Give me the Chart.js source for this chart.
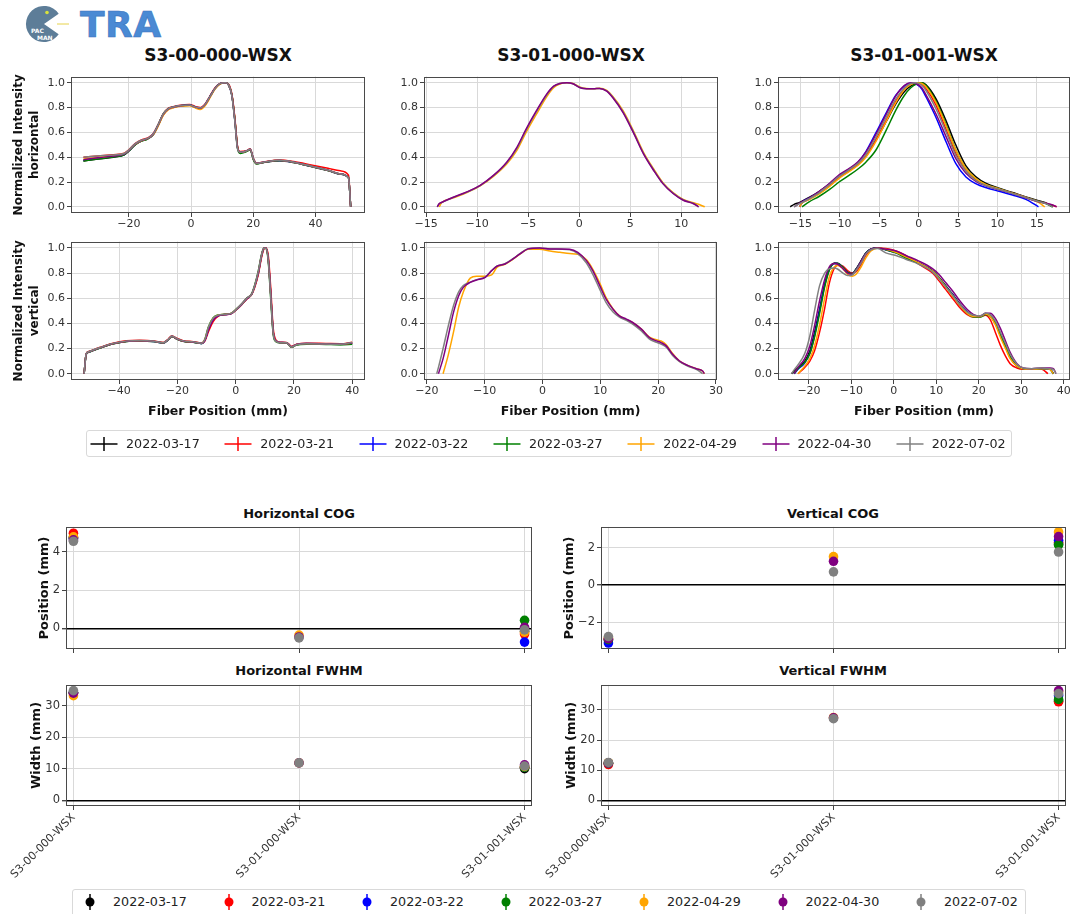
<!DOCTYPE html>
<html>
<head>
<meta charset="utf-8">
<title>TRA fiber profiles</title>
<script src="https://cdn.jsdelivr.net/npm/chart.js@4.4.1/dist/chart.umd.min.js"></script>
<style>
  html, body { margin: 0; padding: 0; }
  body { width: 1072px; height: 914px; position: relative; overflow: hidden; background: #fff;
         font-family: 'DejaVu Sans', sans-serif; color: #111; }
  canvas { position: absolute; }
  .txt { position: absolute; white-space: nowrap; line-height: 1; transform: translate(-50%, -50%); }
  .legend { position: absolute; border: 1px solid #d9d9d9; border-radius: 3px; background: #fff; box-sizing: border-box; }
  .lgtxt { position: absolute; white-space: nowrap; line-height: 1; transform: translateY(-50%); font-size: 12.7px; color: #222; }
  .brand { position: absolute; left: 80px; top: 7px; font-size: 36px; font-weight: bold; line-height: 36px;
           color: #4a8ad4; -webkit-text-stroke: 0.6px #3b74bd; letter-spacing: 0.5px; }
</style>
</head>
<body>
<svg style="position:absolute;left:24px;top:3px" width="46" height="42" viewBox="0 0 46 42">
  <path d="M20,21 L34.7,10.7 A18,18 0 1,0 34.7,31.3 Z" fill="#5d7d98"/>
  <circle cx="23" cy="9.5" r="1.8" fill="#d9e23c"/>
  <line x1="33" y1="21" x2="45" y2="21" stroke="#e6d24a" stroke-width="1"/>
  <text x="7" y="30" font-family="DejaVu Sans" font-size="6" font-weight="bold" fill="#fff">PAC</text>
  <text x="13" y="37" font-family="DejaVu Sans" font-size="6" font-weight="bold" fill="#fff">MAN</text>
</svg>
<div class="brand">TRA</div>

<script>
// ---------------------------------------------------------------------------
// Series and categories
// ---------------------------------------------------------------------------
const dates  = ['2022-03-17', '2022-03-21', '2022-03-22', '2022-03-27', '2022-04-29', '2022-04-30', '2022-07-02'];
const fibers = ['S3-00-000-WSX', 'S3-01-000-WSX', 'S3-01-001-WSX'];
const seriesColors = ['#000000', '#ff0000', '#0000ff', '#008000', '#ffa500', '#800080', '#808080'];

// Tick labels
const intensityTicks = [0, 0.2, 0.4, 0.6, 0.8, 1.0];
const h000_xticks = [-20, 0, 20, 40];
const v000_xticks = [-40, -20, 0, 20, 40];
const h010_xticks = [-15, -10, -5, 0, 5, 10];
const v010_xticks = [-20, -10, 0, 10, 20, 30];
const h011_xticks = [-15, -10, -5, 0, 5, 10, 15];
const v011_xticks = [-20, -10, 0, 10, 20, 30, 40];
const cogH_ticks  = [0, 2, 4];
const cogV_ticks  = [-2, 0, 2];
const fwhm_ticks  = [0, 10, 20, 30];

// ---------------------------------------------------------------------------
// S3-00-000-WSX, horizontal profile (fiber position in mm, normalized intensity)
// ---------------------------------------------------------------------------
const h000_x = [-34.6, -30, -25, -21.5, -20, -18, -16, -14, -12.2, -10.5, -9, -7.3, -5.5, -3.5, -0.5, 1.3, 2.9, 4.5, 6.1, 7.7, 9.3, 11, 12, 13.1, 14.1, 14.9, 15.8, 17.8, 19, 20, 21, 23.3, 28.5, 33, 39, 44, 48, 50.6, 51.3];
const h000_0317 = [0.37, 0.385, 0.4, 0.42, 0.45, 0.5, 0.53, 0.548, 0.58, 0.66, 0.74, 0.788, 0.803, 0.812, 0.818, 0.802, 0.792, 0.822, 0.888, 0.953, 0.992, 1.0, 0.985, 0.905, 0.7, 0.49, 0.44, 0.448, 0.462, 0.385, 0.348, 0.358, 0.372, 0.357, 0.322, 0.292, 0.262, 0.232, 0.0];
const h000_0321 = [0.4, 0.41, 0.42, 0.432, 0.46, 0.51, 0.54, 0.555, 0.59, 0.668, 0.748, 0.795, 0.81, 0.82, 0.825, 0.81, 0.8, 0.83, 0.895, 0.96, 0.995, 1.0, 0.99, 0.91, 0.71, 0.49, 0.445, 0.452, 0.468, 0.392, 0.352, 0.362, 0.378, 0.365, 0.335, 0.31, 0.29, 0.255, 0.0];
const h000_0322 = [0.375, 0.39, 0.405, 0.422, 0.452, 0.502, 0.532, 0.55, 0.583, 0.662, 0.742, 0.79, 0.806, 0.815, 0.82, 0.805, 0.795, 0.824, 0.89, 0.955, 0.993, 1.0, 0.986, 0.9, 0.69, 0.48, 0.44, 0.45, 0.465, 0.388, 0.35, 0.36, 0.374, 0.36, 0.324, 0.294, 0.263, 0.233, 0.0];
const h000_0327 = [0.37, 0.386, 0.402, 0.42, 0.45, 0.5, 0.53, 0.547, 0.582, 0.665, 0.748, 0.792, 0.806, 0.815, 0.82, 0.804, 0.793, 0.823, 0.89, 0.955, 0.993, 1.0, 0.985, 0.9, 0.69, 0.475, 0.43, 0.445, 0.46, 0.38, 0.345, 0.358, 0.373, 0.358, 0.323, 0.293, 0.263, 0.233, 0.0];
const h000_0429 = [0.385, 0.398, 0.412, 0.428, 0.455, 0.503, 0.533, 0.55, 0.58, 0.655, 0.735, 0.783, 0.8, 0.81, 0.815, 0.798, 0.785, 0.815, 0.88, 0.95, 0.99, 1.0, 0.985, 0.905, 0.7, 0.485, 0.44, 0.45, 0.465, 0.39, 0.35, 0.36, 0.375, 0.36, 0.325, 0.295, 0.265, 0.235, 0.0];
const h000_0430 = [0.38, 0.395, 0.41, 0.425, 0.455, 0.505, 0.535, 0.55, 0.585, 0.665, 0.745, 0.79, 0.805, 0.815, 0.82, 0.805, 0.795, 0.825, 0.89, 0.955, 0.993, 1.0, 0.985, 0.9, 0.69, 0.48, 0.44, 0.45, 0.465, 0.39, 0.35, 0.36, 0.375, 0.36, 0.325, 0.295, 0.265, 0.235, 0.0];
const h000_0702 = [0.4, 0.41, 0.418, 0.43, 0.458, 0.508, 0.537, 0.552, 0.587, 0.667, 0.747, 0.792, 0.807, 0.816, 0.82, 0.806, 0.796, 0.826, 0.89, 0.955, 0.993, 1.0, 0.985, 0.895, 0.68, 0.47, 0.44, 0.45, 0.465, 0.39, 0.35, 0.36, 0.375, 0.36, 0.325, 0.295, 0.265, 0.232, 0.0];

// S3-00-000-WSX, vertical profile
const v000_x = [-52, -51.3, -50.5, -46.5, -42, -37.5, -33, -28, -24.8, -23.1, -21.9, -20.2, -18, -14.5, -11.7, -10.5, -9.4, -7.7, -5.9, -3.7, -1.4, 0.3, 2.1, 3.8, 5.5, 6.6, 7.8, 8.9, 9.7, 10.4, 11.2, 12, 12.9, 13.8, 15.2, 17.5, 18.4, 19.2, 20.9, 24.3, 31, 36, 40];
const v000_0317 = [0, 0.152, 0.17, 0.205, 0.238, 0.256, 0.26, 0.255, 0.244, 0.27, 0.295, 0.276, 0.258, 0.25, 0.24, 0.268, 0.345, 0.428, 0.462, 0.47, 0.48, 0.511, 0.552, 0.596, 0.631, 0.698, 0.8, 0.935, 0.995, 1.0, 0.915, 0.655, 0.335, 0.262, 0.247, 0.246, 0.226, 0.212, 0.23, 0.238, 0.235, 0.233, 0.24];
const v000_0321 = [0, 0.158, 0.176, 0.21, 0.243, 0.261, 0.265, 0.26, 0.249, 0.276, 0.302, 0.282, 0.263, 0.255, 0.245, 0.262, 0.33, 0.415, 0.458, 0.468, 0.478, 0.508, 0.548, 0.592, 0.628, 0.69, 0.79, 0.925, 0.99, 1.0, 0.94, 0.7, 0.36, 0.27, 0.25, 0.249, 0.232, 0.218, 0.235, 0.243, 0.24, 0.238, 0.25];
const v000_0322 = [0, 0.154, 0.172, 0.206, 0.239, 0.257, 0.261, 0.256, 0.245, 0.271, 0.297, 0.277, 0.259, 0.251, 0.241, 0.269, 0.348, 0.43, 0.463, 0.47, 0.48, 0.512, 0.553, 0.597, 0.632, 0.7, 0.805, 0.94, 0.997, 1.0, 0.91, 0.645, 0.33, 0.262, 0.248, 0.247, 0.228, 0.214, 0.232, 0.24, 0.237, 0.235, 0.243];
const v000_0327 = [0, 0.153, 0.171, 0.205, 0.238, 0.256, 0.26, 0.255, 0.244, 0.27, 0.296, 0.276, 0.258, 0.25, 0.24, 0.278, 0.37, 0.445, 0.468, 0.472, 0.482, 0.515, 0.556, 0.6, 0.636, 0.71, 0.82, 0.95, 1.0, 0.995, 0.89, 0.61, 0.31, 0.255, 0.246, 0.245, 0.224, 0.21, 0.228, 0.235, 0.232, 0.23, 0.235];
const v000_0429 = [0, 0.155, 0.173, 0.207, 0.24, 0.258, 0.262, 0.257, 0.246, 0.272, 0.298, 0.278, 0.26, 0.252, 0.242, 0.275, 0.36, 0.44, 0.466, 0.471, 0.481, 0.513, 0.554, 0.598, 0.633, 0.7, 0.805, 0.94, 0.997, 1.0, 0.91, 0.645, 0.33, 0.262, 0.248, 0.247, 0.228, 0.214, 0.232, 0.24, 0.237, 0.235, 0.245];
const v000_0430 = [0, 0.155, 0.173, 0.207, 0.24, 0.258, 0.262, 0.257, 0.246, 0.272, 0.298, 0.278, 0.26, 0.252, 0.242, 0.27, 0.35, 0.43, 0.463, 0.47, 0.48, 0.512, 0.553, 0.597, 0.632, 0.7, 0.805, 0.94, 0.997, 1.0, 0.91, 0.645, 0.33, 0.262, 0.248, 0.247, 0.228, 0.214, 0.232, 0.24, 0.237, 0.235, 0.245];
const v000_0702 = [0, 0.156, 0.174, 0.208, 0.241, 0.259, 0.263, 0.258, 0.247, 0.273, 0.299, 0.279, 0.261, 0.253, 0.243, 0.276, 0.365, 0.442, 0.466, 0.471, 0.481, 0.513, 0.554, 0.598, 0.633, 0.705, 0.815, 0.945, 0.998, 0.998, 0.9, 0.625, 0.32, 0.258, 0.247, 0.246, 0.226, 0.212, 0.23, 0.238, 0.236, 0.234, 0.248];

// S3-01-000-WSX, horizontal profile (only three dates measured)
const h010_x = [-13.9, -13.7, -13.5, -12.4, -11, -9.7, -8.4, -7.1, -6.1, -5.2, -4.2, -3.2, -2.5, -1.9, -1.2, -0.6, 0.1, 0.7, 1.4, 2, 2.7, 3.3, 4.3, 5.3, 6.3, 7.3, 8.2, 9.2, 10.2, 11.2, 11.7, 12.3];
const h010_0429 = [null, 0.0, 0.03, 0.07, 0.115, 0.168, 0.245, 0.345, 0.455, 0.6, 0.745, 0.885, 0.96, 0.99, 1.0, 0.995, 0.965, 0.955, 0.953, 0.956, 0.938, 0.89, 0.775, 0.615, 0.44, 0.305, 0.195, 0.115, 0.06, 0.032, 0.02, 0.0];
const h010_0430 = [0, 0.027, 0.035, 0.075, 0.12, 0.173, 0.253, 0.36, 0.48, 0.627, 0.773, 0.907, 0.973, 0.995, 1.0, 0.992, 0.96, 0.952, 0.952, 0.955, 0.933, 0.88, 0.76, 0.6, 0.427, 0.293, 0.187, 0.107, 0.053, 0.025, 0.0, null];
const h010_0702 = [0, 0.025, 0.034, 0.073, 0.118, 0.171, 0.25, 0.355, 0.472, 0.618, 0.765, 0.9, 0.97, 0.994, 1.0, 0.993, 0.962, 0.953, 0.952, 0.955, 0.935, 0.884, 0.765, 0.606, 0.432, 0.298, 0.19, 0.11, 0.055, 0.027, 0.0, null];

// S3-01-000-WSX, vertical profile
const v010_x = [-18.3, -18, -17.2, -16.3, -15.4, -14.5, -13.7, -12.5, -11.4, -9.9, -8.8, -7.9, -6.5, -5.1, -3.9, -2.5, -0.5, 1.3, 3, 4.7, 6.1, 7.6, 8.7, 9.9, 11, 12.2, 13.3, 14.5, 15.6, 17.1, 18.5, 19.7, 20.5, 21.4, 22.5, 23.7, 25.1, 26.6, 27.7, 28];
const v010_0429 = [null, null, 0, 0.15, 0.33, 0.53, 0.65, 0.76, 0.775, 0.775, 0.785, 0.845, 0.87, 0.91, 0.95, 0.99, 0.99, 0.975, 0.965, 0.955, 0.95, 0.905, 0.83, 0.72, 0.605, 0.515, 0.46, 0.43, 0.405, 0.355, 0.29, 0.27, 0.26, 0.23, 0.16, 0.1, 0.065, 0.04, 0.02, 0.0];
const v010_0430 = [null, 0, 0.12, 0.3, 0.487, 0.62, 0.686, 0.726, 0.745, 0.766, 0.819, 0.854, 0.872, 0.912, 0.952, 0.992, 1.0, 0.992, 0.992, 0.99, 0.965, 0.899, 0.819, 0.7, 0.593, 0.513, 0.46, 0.434, 0.407, 0.354, 0.287, 0.261, 0.247, 0.221, 0.154, 0.101, 0.066, 0.04, 0.021, 0.0];
const v010_0702 = [0, 0.05, 0.2, 0.38, 0.54, 0.65, 0.7, 0.728, 0.748, 0.77, 0.82, 0.855, 0.874, 0.914, 0.955, 0.993, 1.0, 0.992, 0.99, 0.985, 0.955, 0.88, 0.79, 0.67, 0.565, 0.49, 0.45, 0.425, 0.395, 0.34, 0.275, 0.25, 0.235, 0.21, 0.145, 0.095, 0.06, 0.035, 0.0, null];

// S3-01-001-WSX, horizontal profile
const h011_x = [-16.3, -15.8, -15.1, -14.8, -13.9, -12.6, -11.3, -10.1, -8.8, -7.7, -6.7, -5.4, -4.1, -2.9, -1.8, -1, -0.3, 0.4, 0.9, 2.2, 3.5, 4.7, 6, 7.3, 8.5, 10.2, 11.9, 13.6, 15.2, 16, 17, 17.5];
const h011_0317 = [0.0, 0.02, 0.035, 0.045, 0.075, 0.125, 0.185, 0.245, 0.3, 0.35, 0.415, 0.54, 0.69, 0.83, 0.93, 0.975, 0.995, 1.0, 0.985, 0.87, 0.69, 0.5, 0.33, 0.24, 0.19, 0.15, 0.115, 0.08, 0.05, 0.035, 0.0, null];
const h011_0321 = [null, null, 0.0, 0.03, 0.06, 0.11, 0.17, 0.235, 0.29, 0.34, 0.41, 0.54, 0.7, 0.85, 0.95, 0.99, 1.0, 0.985, 0.955, 0.82, 0.62, 0.43, 0.29, 0.215, 0.175, 0.14, 0.11, 0.075, 0.045, 0.03, 0.012, 0.0];
const h011_0322 = [null, null, 0.0, 0.035, 0.07, 0.12, 0.185, 0.25, 0.305, 0.36, 0.445, 0.6, 0.76, 0.9, 0.975, 0.998, 0.99, 0.95, 0.89, 0.72, 0.52, 0.35, 0.24, 0.185, 0.155, 0.125, 0.095, 0.06, 0.0, null, null, null];
const h011_0327 = [null, null, null, 0.0, 0.04, 0.085, 0.14, 0.2, 0.255, 0.305, 0.36, 0.46, 0.62, 0.78, 0.9, 0.96, 0.99, 1.0, 0.98, 0.85, 0.66, 0.46, 0.31, 0.225, 0.18, 0.145, 0.11, 0.075, 0.045, 0.03, 0.0, null];
const h011_0429 = [null, null, 0.0, 0.03, 0.06, 0.105, 0.165, 0.23, 0.285, 0.335, 0.4, 0.53, 0.69, 0.84, 0.945, 0.985, 1.0, 0.995, 0.97, 0.84, 0.65, 0.46, 0.31, 0.225, 0.18, 0.145, 0.11, 0.075, 0.035, 0.0, null, null];
const h011_0430 = [null, 0.0, 0.03, 0.04, 0.07, 0.125, 0.19, 0.257, 0.31, 0.363, 0.44, 0.586, 0.748, 0.894, 0.979, 1.0, 0.992, 0.96, 0.907, 0.748, 0.562, 0.39, 0.27, 0.204, 0.17, 0.138, 0.106, 0.072, 0.04, 0.03, 0.015, 0.0];
const h011_0702 = [null, 0.0, 0.025, 0.035, 0.065, 0.115, 0.18, 0.245, 0.3, 0.35, 0.42, 0.565, 0.725, 0.87, 0.96, 0.995, 1.0, 0.98, 0.94, 0.79, 0.6, 0.415, 0.285, 0.21, 0.172, 0.14, 0.108, 0.074, 0.042, 0.028, 0.0, null];

// S3-01-001-WSX, vertical profile
const v011_x = [-24.1, -23.5, -22.6, -21, -19.8, -18.7, -17.5, -16.3, -15.2, -14, -13.2, -12, -10.9, -9.8, -8.9, -7.7, -6.6, -5.4, -3.8, -1.9, 0.5, 2.8, 5.9, 9.1, 10.6, 12.2, 13.8, 15.3, 17.3, 18.8, 20.4, 21.6, 22.7, 23.9, 25.1, 26.3, 27.4, 29, 30.5, 32.5, 34.8, 36.3, 36.8, 37.6, 38.2];
const v011_0317 = [0, 0.02, 0.048, 0.1, 0.18, 0.327, 0.513, 0.713, 0.832, 0.88, 0.878, 0.846, 0.806, 0.798, 0.832, 0.899, 0.96, 0.992, 1.0, 0.987, 0.965, 0.926, 0.88, 0.819, 0.766, 0.699, 0.633, 0.566, 0.492, 0.46, 0.455, 0.479, 0.465, 0.407, 0.314, 0.221, 0.136, 0.066, 0.04, 0.035, 0.04, 0.035, 0.035, 0.0, null];
const v011_0321 = [null, null, 0.0, 0.05, 0.1, 0.18, 0.33, 0.52, 0.72, 0.84, 0.865, 0.855, 0.82, 0.8, 0.81, 0.87, 0.94, 0.985, 1.0, 0.995, 0.975, 0.94, 0.87, 0.8, 0.74, 0.67, 0.6, 0.535, 0.47, 0.45, 0.455, 0.465, 0.43, 0.33, 0.225, 0.14, 0.08, 0.045, 0.035, 0.035, 0.035, 0.0, null, null, null];
const v011_0322 = [null, 0.0, 0.035, 0.085, 0.16, 0.3, 0.5, 0.7, 0.825, 0.875, 0.875, 0.845, 0.805, 0.795, 0.83, 0.895, 0.96, 0.99, 1.0, 0.985, 0.96, 0.925, 0.88, 0.815, 0.765, 0.695, 0.63, 0.56, 0.49, 0.455, 0.455, 0.475, 0.46, 0.4, 0.31, 0.215, 0.13, 0.062, 0.04, 0.035, 0.04, 0.035, 0.035, 0.0, null];
const v011_0327 = [null, 0.0, 0.04, 0.09, 0.16, 0.29, 0.48, 0.69, 0.825, 0.875, 0.875, 0.845, 0.805, 0.795, 0.83, 0.895, 0.96, 0.99, 1.0, 0.985, 0.96, 0.92, 0.875, 0.815, 0.765, 0.695, 0.625, 0.555, 0.48, 0.45, 0.45, 0.47, 0.455, 0.4, 0.305, 0.215, 0.13, 0.06, 0.04, 0.035, 0.04, 0.04, 0.035, 0.0, null];
const v011_0429 = [null, null, 0.0, 0.06, 0.12, 0.22, 0.39, 0.6, 0.77, 0.85, 0.86, 0.835, 0.79, 0.775, 0.79, 0.85, 0.92, 0.975, 1.0, 0.99, 0.965, 0.93, 0.88, 0.815, 0.76, 0.69, 0.62, 0.555, 0.48, 0.455, 0.455, 0.475, 0.455, 0.39, 0.29, 0.2, 0.12, 0.06, 0.04, 0.035, 0.04, 0.04, 0.035, 0.0, null];
const v011_0430 = [null, 0.0, 0.05, 0.12, 0.22, 0.38, 0.58, 0.75, 0.85, 0.875, 0.87, 0.835, 0.8, 0.79, 0.825, 0.895, 0.955, 0.99, 1.0, 0.99, 0.975, 0.94, 0.895, 0.835, 0.79, 0.725, 0.66, 0.59, 0.51, 0.47, 0.46, 0.48, 0.48, 0.44, 0.36, 0.26, 0.17, 0.08, 0.045, 0.04, 0.045, 0.045, 0.045, 0.04, 0.0];
const v011_0702 = [0.0, 0.03, 0.07, 0.16, 0.3, 0.5, 0.7, 0.8, 0.835, 0.84, 0.83, 0.8, 0.78, 0.785, 0.82, 0.88, 0.95, 0.985, 0.995, 0.96, 0.94, 0.91, 0.87, 0.81, 0.755, 0.69, 0.625, 0.56, 0.49, 0.465, 0.46, 0.48, 0.47, 0.42, 0.33, 0.24, 0.155, 0.075, 0.045, 0.04, 0.045, 0.04, 0.04, 0.035, 0.0];

// ---------------------------------------------------------------------------
// Beam centre of gravity and FWHM per fiber, one value per date (mm)
// ---------------------------------------------------------------------------
const cogH_s000 = [4.75, 4.97, 4.7, 4.72, 4.78, 4.62, 4.55];
const cogH_s010 = [null, null, null, null, -0.35, -0.45, -0.5];
const cogH_s011 = [-0.15, -0.3, -0.72, 0.42, -0.2, 0.05, -0.08];

const cogV_s000 = [-2.95, -2.9, -3.13, -2.95, -2.85, -2.9, -2.78];
const cogV_s010 = [null, null, null, null, 1.52, 1.27, 0.7];
const cogV_s011 = [2.2, 2.3, 2.4, 2.15, 2.85, 2.6, 1.77];

const fwhmH_s000 = [34.2, 34.0, 34.1, 34.0, 33.2, 34.0, 34.8];
const fwhmH_s010 = [null, null, null, null, 11.9, 11.9, 11.9];
const fwhmH_s011 = [10.1, 10.5, 10.6, 10.5, 10.8, 11.3, 10.9];

const fwhmV_s000 = [12.3, 11.9, 12.4, 12.3, 12.5, 12.4, 12.6];
const fwhmV_s010 = [null, null, null, null, 27.5, 27.4, 27.1];
const fwhmV_s011 = [33.0, 32.7, 34.8, 33.5, 36.0, 36.4, 35.4];

// ---------------------------------------------------------------------------
// Drawing helpers
// ---------------------------------------------------------------------------
Chart.defaults.font.family = "'DejaVu Sans', sans-serif";
Chart.defaults.color = '#333';

const TICK_FONT = { family: "'DejaVu Sans', sans-serif", size: 11 };
const GRID_COLOR = '#d9d9d9';
const fmtSigned = v => (v < 0 ? '\u2212' + Math.abs(v) : String(v));

// Full rectangular frame around the plotting area
const framePlugin = {
  id: 'frame',
  afterDatasetsDraw(chart) {
    const { ctx, chartArea: a } = chart;
    ctx.save();
    ctx.strokeStyle = '#4a4a4a';
    ctx.lineWidth = 1;
    ctx.strokeRect(Math.round(a.left) + 0.5, Math.round(a.top) + 0.5,
                   Math.round(a.right - a.left) - 1, Math.round(a.bottom - a.top) - 1);
    ctx.restore();
  }
};

function makeCanvas(area, yw, xh, padT, padR) {
  const c = document.createElement('canvas');
  const left = area[0] - yw, top = area[1] - padT;
  const w = area[2] - area[0] + yw + padR, h = area[3] - area[1] + padT + xh;
  c.width = w; c.height = h;
  c.style.left = left + 'px'; c.style.top = top + 'px';
  c.style.width = w + 'px'; c.style.height = h + 'px';
  document.body.appendChild(c);
  return c;
}

const fixTicks = values => scale => { scale.ticks = values.map(v => ({ value: v })); };

function text(str, cx, cy, size, weight) {
  const d = document.createElement('div');
  d.className = 'txt';
  d.textContent = str;
  d.style.left = cx + 'px';
  d.style.top = cy + 'px';
  d.style.fontSize = size + 'px';
  d.style.fontWeight = weight || 'normal';
  document.body.appendChild(d);
}

// Stacking: later dates are painted over earlier ones, optionally with one date forced to the top
function drawOrder(i, topIndex) {
  if (topIndex !== undefined && i === topIndex) return -1;
  return seriesColors.length - 1 - i;
}

function profileChart(o) {
  const padT = 8;
  const cv = makeCanvas(o.area, o.yw, o.xh, padT, o.padR);
  const datasets = o.series.map((ys, i) => ({
    label: dates[i],
    data: ys.map((y, k) => ({ x: o.xs[k], y: y })),
    borderColor: seriesColors[i],
    backgroundColor: seriesColors[i],
    borderWidth: 1.5,
    pointRadius: 0,
    cubicInterpolationMode: 'monotone',
    fill: false,
    spanGaps: false,
    order: drawOrder(i, o.topIndex)
  }));
  new Chart(cv, {
    type: 'line',
    data: { datasets },
    options: {
      responsive: false, devicePixelRatio: 1, animation: false,
      layout: { autoPadding: false, padding: { top: padT, right: o.padR, left: 0, bottom: 0 } },
      plugins: { legend: { display: false }, tooltip: { enabled: false } },
      scales: {
        x: {
          type: 'linear', min: o.xmin, max: o.xmax,
          afterBuildTicks: fixTicks(o.xticks),
          afterFit: s => { s.height = o.xh; },
          border: { display: false },
          grid: { color: GRID_COLOR, lineWidth: 1, tickLength: 4, tickColor: '#444' },
          ticks: { font: TICK_FONT, color: '#333', padding: 1, maxRotation: 0, autoSkip: false, callback: v => fmtSigned(v) },
          title: o.xtitle ? { display: true, text: o.xtitle, color: '#111',
                              font: { size: 12.5, weight: 'bold', lineHeight: 1.3 }, padding: { top: 0, bottom: 2 } }
                          : { display: false }
        },
        y: {
          type: 'linear', min: -0.05, max: 1.05,
          afterBuildTicks: fixTicks(intensityTicks),
          afterFit: s => { s.width = o.yw; },
          border: { display: false },
          grid: { color: GRID_COLOR, lineWidth: 1, tickLength: 4, tickColor: '#444' },
          ticks: { font: TICK_FONT, color: '#333', padding: 2, autoSkip: false, callback: v => v.toFixed(1) },
          title: o.ytitle ? { display: true, text: o.ytitle, color: '#111',
                              font: { size: 12, weight: 'bold', lineHeight: 1.3 }, padding: { top: 11, bottom: 0 } }
                          : { display: false }
        }
      }
    },
    plugins: [framePlugin]
  });
}

function summaryChart(o) {
  const padT = 4, padR = 6;
  const cv = makeCanvas(o.area, o.yw, o.xh, padT, padR);
  const datasets = dates.map((d, i) => ({
    label: d,
    data: o.byFiber.map((vals, f) => ({ x: f, y: vals[i] })),
    backgroundColor: seriesColors[i],
    borderColor: seriesColors[i],
    borderWidth: 0,
    pointRadius: 4.8,
    pointStyle: 'circle',
    order: drawOrder(i)
  }));
  new Chart(cv, {
    type: 'scatter',
    data: { datasets },
    options: {
      responsive: false, devicePixelRatio: 1, animation: false,
      layout: { autoPadding: false, padding: { top: padT, right: padR, left: 0, bottom: 0 } },
      plugins: { legend: { display: false }, tooltip: { enabled: false } },
      scales: {
        x: {
          type: 'linear', min: -0.033, max: 2.033,
          afterBuildTicks: fixTicks([0, 1, 2]),
          afterFit: s => { s.height = o.xh; },
          border: { display: false },
          grid: { color: GRID_COLOR, lineWidth: 1, tickLength: 4, tickColor: '#444' },
          ticks: {
            font: TICK_FONT, color: '#333', padding: 1, autoSkip: false,
            minRotation: o.showCats ? 45 : 0, maxRotation: o.showCats ? 45 : 0,
            callback: v => (o.showCats ? fibers[v] : '')
          }
        },
        y: {
          type: 'linear', min: o.ymin, max: o.ymax,
          afterBuildTicks: fixTicks(o.yticks),
          afterFit: s => { s.width = o.yw; },
          border: { display: false },
          grid: {
            color: c => (c.tick && c.tick.value === 0 ? '#000' : GRID_COLOR),
            lineWidth: c => (c.tick && c.tick.value === 0 ? 1.4 : 1),
            tickLength: 4, tickColor: '#444'
          },
          ticks: { font: { size: 11.5 }, color: '#333', padding: 2, autoSkip: false, callback: v => fmtSigned(v) },
          title: { display: true, text: o.ytitle, color: '#111',
                   font: { size: 13, weight: 'bold', lineHeight: 1.2 }, padding: { top: o.titlePad, bottom: 0 } }
        }
      }
    },
    plugins: [framePlugin]
  });
}

// ---------------------------------------------------------------------------
// Beam profiles
// ---------------------------------------------------------------------------
text(fibers[0], 218, 55, 17, 'bold');
text(fibers[1], 571, 55, 17, 'bold');
text(fibers[2], 924, 55, 17, 'bold');

profileChart({ area: [71, 76, 365, 213], yw: 71, xh: 22, padR: 6, xmin: -38.6, xmax: 55.9,
  xticks: h000_xticks, xs: h000_x, ytitle: ['Normalized Intensity', 'horizontal'],
  series: [h000_0317, h000_0321, h000_0322, h000_0327, h000_0429, h000_0430, h000_0702] });
profileChart({ area: [71, 241, 365, 380], yw: 71, xh: 42, padR: 6, xmin: -56.5, xmax: 44.4,
  xticks: v000_xticks, xs: v000_x, ytitle: ['Normalized Intensity', 'vertical'], xtitle: 'Fiber Position (mm)',
  series: [v000_0317, v000_0321, v000_0322, v000_0327, v000_0429, v000_0430, v000_0702] });

profileChart({ area: [424, 76, 718, 213], yw: 38, xh: 22, padR: 6, xmin: -15.2, xmax: 13.6,
  xticks: h010_xticks, xs: h010_x, topIndex: 5,
  series: [[], [], [], [], h010_0429, h010_0430, h010_0702] });
profileChart({ area: [424, 241, 718, 380], yw: 38, xh: 42, padR: 6, xmin: -20.5, xmax: 30.2,
  xticks: v010_xticks, xs: v010_x, xtitle: 'Fiber Position (mm)', topIndex: 5,
  series: [[], [], [], [], v010_0429, v010_0430, v010_0702] });

profileChart({ area: [778, 76, 1070, 213], yw: 38, xh: 22, padR: 2, xmin: -17.85, xmax: 19.2,
  xticks: h011_xticks, xs: h011_x,
  series: [h011_0317, h011_0321, h011_0322, h011_0327, h011_0429, h011_0430, h011_0702] });
profileChart({ area: [778, 241, 1070, 380], yw: 38, xh: 42, padR: 2, xmin: -27.3, xmax: 41.5,
  xticks: v011_xticks, xs: v011_x, xtitle: 'Fiber Position (mm)',
  series: [v011_0317, v011_0321, v011_0322, v011_0327, v011_0429, v011_0430, v011_0702] });

// ---------------------------------------------------------------------------
// COG / FWHM summaries
// ---------------------------------------------------------------------------
text('Horizontal COG', 299, 513, 13, 'bold');
text('Vertical COG', 833, 513, 13, 'bold');
text('Horizontal FWHM', 299, 670, 13, 'bold');
text('Vertical FWHM', 833, 670, 13, 'bold');

summaryChart({ area: [66, 522, 532, 649], yw: 66, xh: 10, titlePad: 37, ymin: -1.08, ymax: 5.3,
  yticks: cogH_ticks, ytitle: 'Position (mm)', showCats: false, byFiber: [cogH_s000, cogH_s010, cogH_s011] });
summaryChart({ area: [601, 522, 1066, 649], yw: 66, xh: 10, titlePad: 27, ymin: -3.45, ymax: 3.12,
  yticks: cogV_ticks, ytitle: 'Position (mm)', showCats: false, byFiber: [cogV_s000, cogV_s010, cogV_s011] });
summaryChart({ area: [66, 680, 532, 806], yw: 66, xh: 85, titlePad: 29, ymin: -1.75, ymax: 36.6,
  yticks: fwhm_ticks, ytitle: 'Width (mm)', showCats: true, byFiber: [fwhmH_s000, fwhmH_s010, fwhmH_s011] });
summaryChart({ area: [601, 680, 1066, 806], yw: 66, xh: 85, titlePad: 29, ymin: -1.83, ymax: 38.3,
  yticks: fwhm_ticks, ytitle: 'Width (mm)', showCats: true, byFiber: [fwhmV_s000, fwhmV_s010, fwhmV_s011] });

// ---------------------------------------------------------------------------
// Legends
// ---------------------------------------------------------------------------
function legend(box, cy, x0, step, textGap, kind) {
  const b = document.createElement('div');
  b.className = 'legend';
  b.style.left = box[0] + 'px'; b.style.top = box[1] + 'px';
  b.style.width = box[2] + 'px'; b.style.height = box[3] + 'px';
  document.body.appendChild(b);
  dates.forEach((d, i) => {
    const cx = x0 + i * step;
    const ns = 'http://www.w3.org/2000/svg';
    const svg = document.createElementNS(ns, 'svg');
    svg.setAttribute('width', 30); svg.setAttribute('height', 20);
    svg.style.position = 'absolute';
    svg.style.left = (cx - 15) + 'px'; svg.style.top = (cy - 10) + 'px';
    const col = seriesColors[i];
    const ln = (x1, y1, x2, y2) => {
      const l = document.createElementNS(ns, 'line');
      l.setAttribute('x1', x1); l.setAttribute('y1', y1); l.setAttribute('x2', x2); l.setAttribute('y2', y2);
      l.setAttribute('stroke', col); l.setAttribute('stroke-width', 1.5);
      svg.appendChild(l);
    };
    if (kind === 'line') {
      ln(1.5, 10, 28.5, 10);
      ln(15, 3, 15, 17);
    } else {
      ln(15, 2, 15, 18);
      const c = document.createElementNS(ns, 'circle');
      c.setAttribute('cx', 15); c.setAttribute('cy', 10); c.setAttribute('r', 4.5); c.setAttribute('fill', col);
      svg.appendChild(c);
    }
    document.body.appendChild(svg);
    const t = document.createElement('div');
    t.className = 'lgtxt';
    t.textContent = d;
    t.style.left = (cx + textGap) + 'px';
    t.style.top = cy + 'px';
    document.body.appendChild(t);
  });
}

legend([86, 430, 926, 27], 443.5, 104, 134.3, 22, 'line');
legend([72, 889, 954, 30], 902, 90, 138.5, 23, 'dot');
</script>
</body>
</html>
